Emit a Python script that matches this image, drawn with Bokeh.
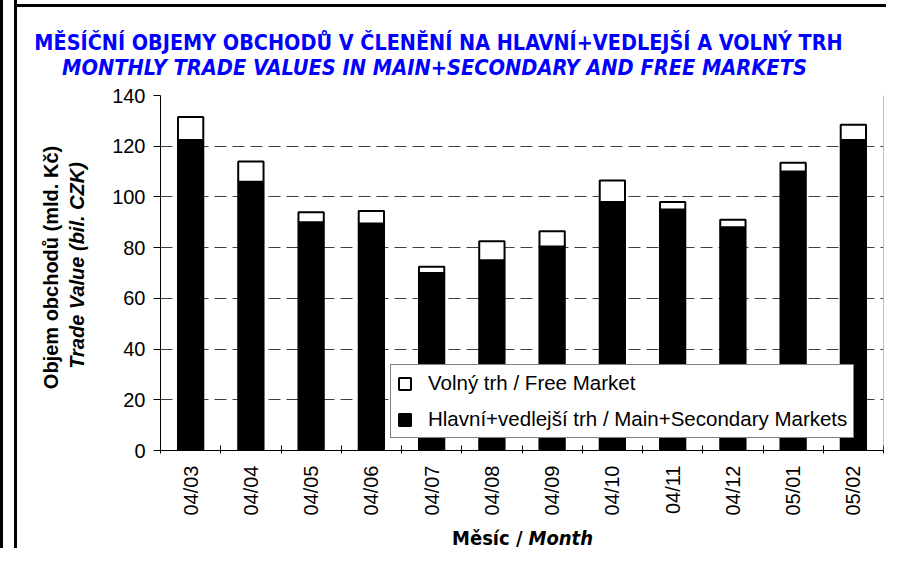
import math
from bokeh.plotting import figure
from bokeh.models import (ColumnDataSource, Range1d, FixedTicker, Label, Legend,
                          LegendItem, Span)
from bokeh.embed import file_html
from bokeh.resources import INLINE

# ---------------- data ----------------
months = ["04/03", "04/04", "04/05", "04/06", "04/07", "04/08",
          "04/09", "04/10", "04/11", "04/12", "05/01", "05/02"]
main_secondary = [122.5, 106.0, 90.0, 89.5, 70.0, 75.0, 80.5, 98.0, 95.0, 88.0, 110.0, 122.5]
free_market = [9.0, 8.0, 4.0, 5.0, 2.5, 7.5, 6.0, 8.5, 3.0, 3.0, 3.5, 6.0]
y_ticks = [0, 20, 40, 60, 80, 100, 120, 140]

title_cz = "MĚSÍČNÍ OBJEMY OBCHODŮ V ČLENĚNÍ NA HLAVNÍ+VEDLEJŠÍ A VOLNÝ TRH"
title_en = "MONTHLY TRADE VALUES IN MAIN+SECONDARY AND FREE MARKETS"
ylab_cz = "Objem obchodů (mld. Kč)"
ylab_en = "Trade Value (bil. CZK)"
xlab_cz = "Měsíc /"
xlab_en = "Month"
leg_free = "Volný trh / Free Market"
leg_main = "Hlavní+vedlejší trh / Main+Secondary Markets"

# ---------------- layout ----------------
W, H = 886, 548
FL, FR, FT, FB = 160, 883, 95, 450   # frame edges in px
NX = len(months)
YMAX = 140
FONT = "Liberation Sans"
COND = "DejaVu Sans Condensed"


def px_x(px):
    return (px - FL) / (FR - FL) * NX


def px_y(py):
    return YMAX - (py - FT) / (FB - FT) * YMAX


centers = [i + 0.5 for i in range(NX)]
src = ColumnDataSource(dict(x=centers, month=months, main=main_secondary, free=free_market))

p = figure(width=W, height=H, x_range=Range1d(0, NX), y_range=Range1d(0, YMAX),
           output_backend="svg", toolbar_location=None, title=None,
           min_border_left=FL, min_border_right=W - FR,
           min_border_top=FT, min_border_bottom=H - FB)
p.background_fill_color = "white"
p.border_fill_color = None
p.outline_line_color = None
# outer chart frame (left stripe, left and top edges of the chart box)
p.styles = {"box-shadow": "inset 3px 0 0 0 black, inset 14px 0 0 0 white, "
                          "inset 17px 0 0 0 black, inset 0 4px 0 0 white, "
                          "inset 0 7px 0 0 black",
            "background-color": "white"}

r_main, r_free = p.vbar_stack(["main", "free"], x="x", width=0.42, source=src,
                              fill_color=["black", "white"], line_color="black",
                              line_width=2)

# axes
xa = p.xaxis[0]
xa.ticker = FixedTicker(ticks=centers, minor_ticks=list(range(NX + 1)))
xa.major_label_overrides = {c: m for c, m in zip(centers, months)}
xa.major_label_orientation = math.pi / 2
xa.major_tick_line_color = None
xa.major_tick_out = 0
xa.major_tick_in = 0
xa.minor_tick_line_color = "black"
xa.minor_tick_in = 5
xa.minor_tick_out = 3
xa.major_label_standoff = 12
xa.major_label_text_font = FONT
xa.major_label_text_font_size = "20px"
xa.major_label_text_color = "black"
xa.axis_line_color = "black"

ya = p.yaxis[0]
ya.ticker = FixedTicker(ticks=y_ticks)
ya.minor_tick_line_color = None
ya.major_tick_out = 7
ya.major_tick_in = 0
ya.major_tick_line_color = "black"
ya.major_label_standoff = 8
ya.major_label_text_font = FONT
ya.major_label_text_font_size = "20px"
ya.major_label_text_color = "black"
ya.axis_line_color = "black"

p.xgrid.visible = False
p.ygrid.ticker = FixedTicker(ticks=y_ticks)
p.ygrid.grid_line_color = "#404040"
p.ygrid.grid_line_dash = "12 6"
p.ygrid.grid_line_width = 1

p.add_layout(Span(location=NX, dimension="height", line_color="#808080", line_width=1))

# legend
legend = Legend(items=[LegendItem(label=leg_free, renderers=[r_free]),
                       LegendItem(label=leg_main, renderers=[r_main])],
                location=(230, 12), orientation="vertical", margin=0,
                padding=6, spacing=12, label_height=20, glyph_width=15, glyph_height=15,
                label_standoff=16, label_text_font=FONT, label_text_font_size="20.5px",
                label_text_color="black",
                border_line_color="black", border_line_width=1,
                background_fill_color="white", background_fill_alpha=1.0)
p.add_layout(legend)

# texts placed in side panels (so they are drawn outside the plot frame)
p.add_layout(Label(x=px_x(438), y=px_y(42), text=title_cz, text_align="center",
                   text_baseline="middle", text_font=COND, text_font_size="21.4px",
                   text_font_style="bold", text_color="#0000FF"), "above")
p.add_layout(Label(x=px_x(434), y=px_y(67), text=title_en, text_align="center",
                   text_baseline="middle", text_font=COND, text_font_size="21.6px",
                   text_font_style="bold italic", text_color="#0000FF"), "above")
p.add_layout(Label(x=px_x(522), y=px_y(537), text=xlab_cz, text_align="right",
                   text_baseline="middle", text_font=COND, text_font_size="20px",
                   text_font_style="bold", text_color="black"), "above")
p.add_layout(Label(x=px_x(528), y=px_y(537), text=xlab_en, text_align="left",
                   text_baseline="middle", text_font=COND, text_font_size="20px",
                   text_font_style="bold italic", text_color="black"), "below")

p.add_layout(Label(x=px_x(50), y=px_y(267), text=ylab_cz, angle=math.pi / 2,
                   text_align="center", text_baseline="middle", text_font=FONT,
                   text_font_size="20px", text_font_style="bold", text_color="black"), "left")
p.add_layout(Label(x=px_x(76), y=px_y(265), text=ylab_en, angle=math.pi / 2,
                   text_align="center", text_baseline="middle", text_font=FONT,
                   text_font_size="20px", text_font_style="bold italic", text_color="black"), "left")

open("out.html", "w").write(file_html(p, INLINE))
